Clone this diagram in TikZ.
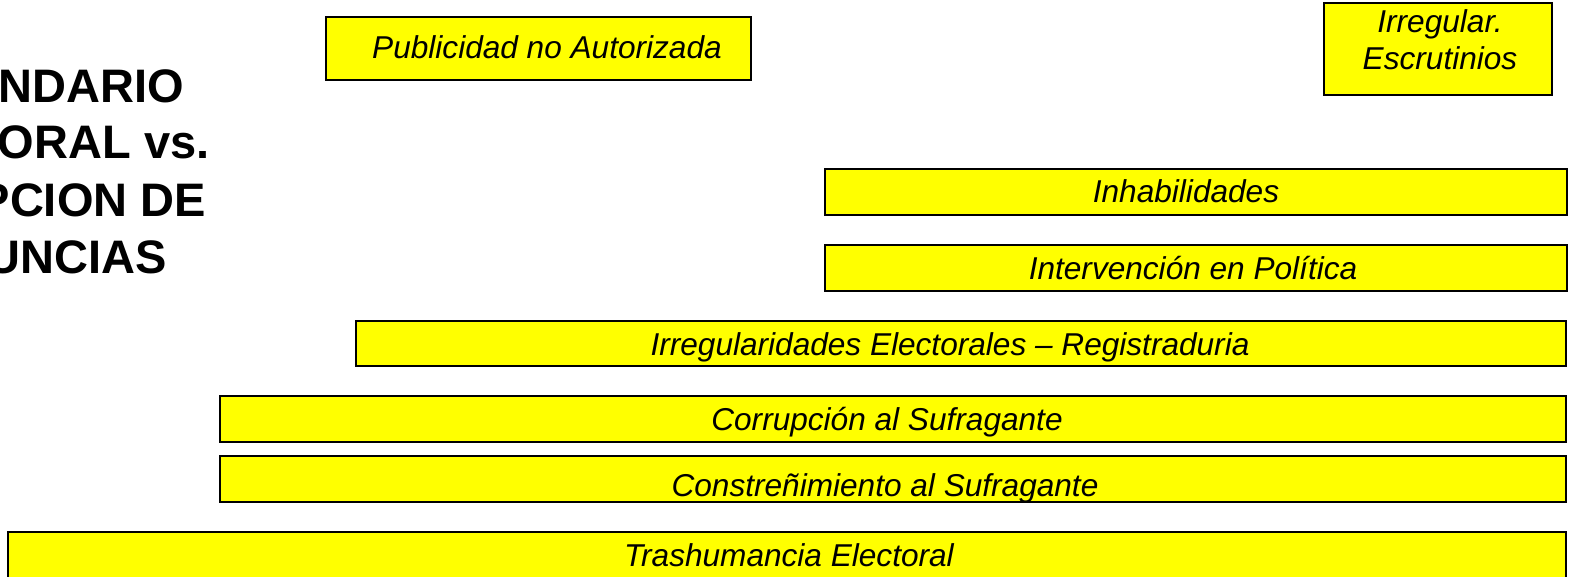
\documentclass[tikz,border=0pt]{standalone}
\usepackage{fontspec}
\setmainfont{Liberation Sans}
\begin{document}
\begin{tikzpicture}[x=0.5pt,y=-0.5pt,
  box/.style={draw=black, fill={rgb,1:red,1;green,1;blue,0}, line width=1.4pt},
  lbl/.style={inner sep=0pt, anchor=base, font=\fontsize{15.8}{18.5}\selectfont\itshape},
  ttl/.style={inner sep=0pt, anchor=base, font=\fontsize{23.5}{28.5}\selectfont\bfseries}]
\useasboundingbox (0,0) rectangle (1574,577);
% title (partly outside the page on the left, as in the reference)
\node[ttl] (t1) at (27,103) {CALENDARIO};
\node[ttl] (t2) at (27,159) {ELECTORAL vs.};
\node[ttl] (t3) at (27,217) {RECEPCION DE};
\node[ttl] (t4) at (27,274) {DENUNCIAS};
% boxes
\path[box] (326,17) rectangle (751,80);
\node[lbl] (pub) at (547,59) {Publicidad no Autorizada};
\path[box] (1324,3) rectangle (1552,95);
\node[lbl] (esc1) at (1440,33) {Irregular.};
\node[lbl] (esc2) at (1440,70) {Escrutinios};
\path[box] (825,169) rectangle (1567,215);
\node[lbl] (inh) at (1186,203) {Inhabilidades};
\path[box] (825,245) rectangle (1567,291);
\node[lbl] (int) at (1193,279) {Intervención en Política};
\path[box] (356,321) rectangle (1566,366);
\node[lbl] (irr) at (950,355) {Irregularidades Electorales – Registraduria};
\path[box] (220,396) rectangle (1566,442);
\node[lbl] (cor) at (887,430) {Corrupción al Sufragante};
\path[box] (220,456) rectangle (1566,502);
\node[lbl] (con) at (885,496) {Constreñimiento al Sufragante};
\path[box] (8,532) rectangle (1566,580);
\node[lbl] (tra) at (789,566) {Trashumancia Electoral};
\end{tikzpicture}
\end{document}
